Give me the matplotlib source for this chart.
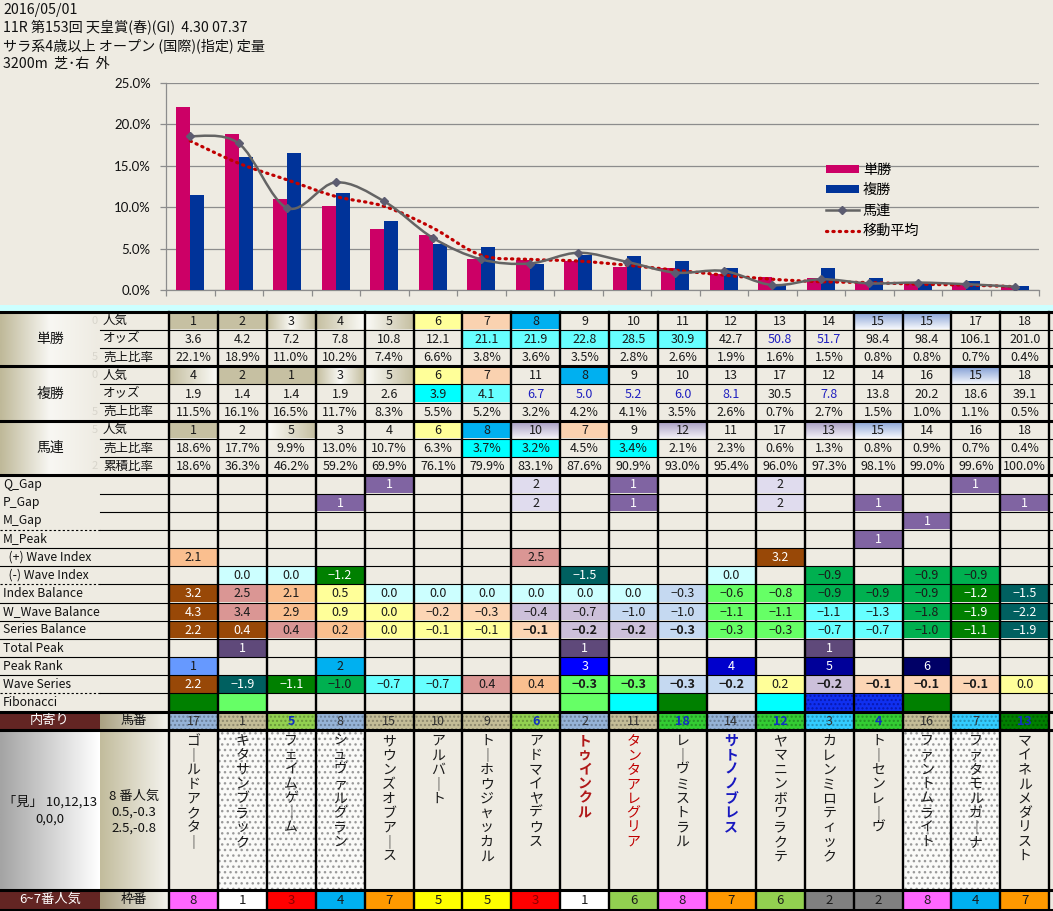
import numpy as np
import matplotlib
matplotlib.use('Agg')
import matplotlib.pyplot as plt
from matplotlib.patches import Rectangle, Patch, PathPatch
from matplotlib.lines import Line2D
from matplotlib.path import Path
import matplotlib.colors as mcolors

plt.rcParams['font.family'] = ['Noto Sans CJK JP', 'DejaVu Sans']

# ------------------------------------------------------------------ data
header_lines = ["2016/05/01",
                "11R 第153回 天皇賞(春)(GI)  4.30 07.37",
                "サラ系4歳以上 オープン (国際)(指定) 定量",
                "3200m  芝･右  外"]

tan_ninki = [1, 2, 3, 4, 5, 6, 7, 8, 9, 10, 11, 12, 13, 14, 15, 15, 17, 18]
tan_odds = [3.6, 4.2, 7.2, 7.8, 10.8, 12.1, 21.1, 21.9, 22.8, 28.5, 30.9, 42.7, 50.8, 51.7, 98.4, 98.4, 106.1, 201.0]
tan_ratio = [22.1, 18.9, 11.0, 10.2, 7.4, 6.6, 3.8, 3.6, 3.5, 2.8, 2.6, 1.9, 1.6, 1.5, 0.8, 0.8, 0.7, 0.4]

fuku_ninki = [4, 2, 1, 3, 5, 6, 7, 11, 8, 9, 10, 13, 17, 12, 14, 16, 15, 18]
fuku_odds = [1.9, 1.4, 1.4, 1.9, 2.6, 3.9, 4.1, 6.7, 5.0, 5.2, 6.0, 8.1, 30.5, 7.8, 13.8, 20.2, 18.6, 39.1]
fuku_ratio = [11.5, 16.1, 16.5, 11.7, 8.3, 5.5, 5.2, 3.2, 4.2, 4.1, 3.5, 2.6, 0.7, 2.7, 1.5, 1.0, 1.1, 0.5]

umaren_ninki = [1, 2, 5, 3, 4, 6, 8, 10, 7, 9, 12, 11, 17, 13, 15, 14, 16, 18]
umaren_ratio = [18.6, 17.7, 9.9, 13.0, 10.7, 6.3, 3.7, 3.2, 4.5, 3.4, 2.1, 2.3, 0.6, 1.3, 0.8, 0.9, 0.7, 0.4]
umaren_cum = [18.6, 36.3, 46.2, 59.2, 69.9, 76.1, 79.9, 83.1, 87.6, 90.9, 93.0, 95.4, 96.0, 97.3, 98.1, 99.0, 99.6, 100.0]

moving_avg = [18.0, 15.3, 13.3, 11.3, 10.1, 7.5, 4.2, 3.7, 3.5, 3.0, 2.4, 1.8, 1.3, 1.0, 0.9, 0.7, 0.6, 0.4]

N_ = None
q_gap = [N_, N_, N_, N_, 1, N_, N_, 2, N_, 1, N_, N_, 2, N_, N_, N_, 1, N_]
p_gap = [N_, N_, N_, 1, N_, N_, N_, 2, N_, 1, N_, N_, 2, N_, 1, N_, N_, 1]
m_gap = [N_] * 15 + [1, N_, N_]
m_peak = [N_] * 14 + [1, N_, N_, N_]
plus_wave = [2.1, N_, N_, N_, N_, N_, N_, 2.5, N_, N_, N_, N_, 3.2, N_, N_, N_, N_, N_]
minus_wave = [N_, 0.0, 0.0, -1.2, N_, N_, N_, N_, -1.5, N_, N_, 0.0, N_, -0.9, N_, -0.9, -0.9, N_]
index_balance = [3.2, 2.5, 2.1, 0.5, 0.0, 0.0, 0.0, 0.0, 0.0, 0.0, -0.3, -0.6, -0.8, -0.9, -0.9, -0.9, -1.2, -1.5]
w_wave_balance = [4.3, 3.4, 2.9, 0.9, 0.0, -0.2, -0.3, -0.4, -0.7, -1.0, -1.0, -1.1, -1.1, -1.1, -1.3, -1.8, -1.9, -2.2]
series_balance = [2.2, 0.4, 0.4, 0.2, 0.0, -0.1, -0.1, -0.1, -0.2, -0.2, -0.3, -0.3, -0.3, -0.7, -0.7, -1.0, -1.1, -1.9]
total_peak = [N_, 1, N_, N_, N_, N_, N_, N_, 1, N_, N_, N_, N_, 1, N_, N_, N_, N_]
peak_rank = [1, N_, N_, 2, N_, N_, N_, N_, 3, N_, N_, 4, N_, 5, N_, 6, N_, N_]
wave_series = [2.2, -1.9, -1.1, -1.0, -0.7, -0.7, 0.4, 0.4, -0.3, -0.3, -0.3, -0.2, 0.2, -0.2, -0.1, -0.1, -0.1, 0.0]

umaban = [17, 1, 5, 8, 15, 10, 9, 6, 2, 11, 18, 14, 12, 3, 4, 16, 7, 13]
horse_names = ["ゴールドアクター", "キタサンブラック", "フェイムゲーム", "シュヴァルグラン",
               "サウンズオブアース", "アルバート", "トーホウジャッカル", "アドマイヤデウス",
               "トゥインクル", "タンタアレグリア", "レーヴミストラル", "サトノノブレス",
               "ヤマニンボワラクテ", "カレンミロティック", "トーセンレーヴ", "ファントムライト",
               "ファタモルガーナ", "マイネルメダリスト"]
wakuban = [8, 1, 3, 4, 7, 5, 5, 3, 1, 6, 8, 7, 6, 2, 2, 8, 4, 7]

upper_labels = [("単勝", ["人気", "オッズ", "売上比率"], ["0", "", "5"]),
                ("複勝", ["人気", "オッズ", "売上比率"], ["0", "", "5"]),
                ("馬連", ["人気", "売上比率", "累積比率"], ["5", "", "2"])]
lower_labels = ["Q_Gap", "P_Gap", "M_Gap", "M_Peak", "  (+) Wave Index", "  (-) Wave Index",
                "Index Balance", "W_Wave Balance", "Series Balance", "Total Peak",
                "Peak Rank", "Wave Series", "Fibonacci"]
note_left = ["「見」 10,12,13", "0,0,0"]
note_mid = ["8 番人気", "0.5,-0.3", "2.5,-0.8"]

# ------------------------------------------------------------------ styles
BG = '#EEEBE2'
P = {'br': '#984807', 'pk': '#DA9694', 'pe': '#FABF8F', 'lp': '#FCD5B4', 'ye': '#FFFF99',
     'lc': '#CCFFFF', 'cy': '#66FFFF', 'cb': '#00FFFF', 'lb': '#C5D9F1', 'lv': '#CCC0DA',
     'lg': '#66FF66', 'gr': '#00B050', 'dg': '#008000', 'tl': '#006060', 'pu': '#8064A2',
     'll': '#E0DCEE', 'dp': '#5F497A', 'sk': '#00B0F0', 'cf': '#6699FF', 'bl': '#0000FF',
     'b2': '#0000CC', 'nv': '#000099', 'dn': '#000066', 'pa': '#FAD2B0'}
_ = None
st_tan_ninki = ['o', 'o', 'owo', 'ow', 'wo', 'ye', 'pa', 'sk', _, _, _, _, _, _, 'bw', 'bw', _, _]
st_fuku_ninki = ['ow', 'o', 'o', 'owo', 'wo', 'ye', 'pa', _, 'sk', _, _, _, _, _, _, _, 'bw', _]
st_uma_ninki = ['o', _, 'wo', _, _, 'ye', 'sk', 'lvg', 'pa', _, 'lvg', _, _, 'lvg', 'bw', _, _, _]
st_tan_odds = [_] * 6 + ['cy'] * 5 + [_] * 7
st_fuku_odds = [_] * 5 + ['cb', 'cy'] + [_] * 11
st_uma_ratio = [_] * 6 + ['cb', 'cb', _, 'cb'] + [_] * 8
blue_tan_odds = [12, 13]
blue_fuku_odds = [7, 8, 9, 10, 11, 13]

st_q = [_, _, _, _, 'pu', _, _, 'll', _, 'pu', _, _, 'll', _, _, _, 'pu', _]
st_p = [_, _, _, 'pu', _, _, _, 'll', _, 'pu', _, _, 'll', _, 'pu', _, _, 'pu']
st_mg = [_] * 15 + ['pu', _, _]
st_mp = [_] * 14 + ['pu', _, _, _]
st_plus = ['pe', _, _, _, _, _, _, 'pk', _, _, _, _, 'br', _, _, _, _, _]
st_minus = [_, 'lc', 'lc', 'dg', _, _, _, _, 'tl', _, _, 'lc', _, 'gr', _, 'gr', 'gr', _]
st_ib = ['br', 'pk', 'pe', 'ye', 'lc', 'lc', 'lc', 'lc', 'lc', 'lc', 'lb', 'lg', 'lg', 'gr', 'gr', 'gr', 'dg', 'tl']
st_ww = ['br', 'pk', 'pe', 'ye', 'ye', 'lp', 'lp', 'lv', 'lv', 'lb', 'lb', 'lg', 'lg', 'cy', 'cy', 'gr', 'dg', 'tl']
st_sb = ['br', 'br', 'pk', 'pe', 'ye', 'ye', 'ye', 'lp', 'lv', 'lv', 'lb', 'lg', 'lg', 'cy', 'cy', 'gr', 'dg', 'tl']
st_tp = [_, 'dp', _, _, _, _, _, _, 'dp', _, _, _, _, 'dp', _, _, _, _]
st_pr = ['cf', _, _, 'sk', _, _, _, _, 'bl', _, _, 'b2', _, 'nv', _, 'dn', _, _]
st_ws = ['br', 'tl', 'dg', 'gr', 'cy', 'cy', 'pk', 'pe', 'lg', 'lg', 'lb', 'lb', 'ye', 'lv', 'lp', 'lp', 'lp', 'ye']
st_fib = ['dg', 'lg', _, _, _, _, _, _, 'lg', 'cb', 'dg', _, 'cb', 'dot', 'dot', 'dg', _, _]
bold_sb = [7, 8, 9, 10]
bold_ws = [8, 9, 10, 11, 13, 14, 15, 16]

umaban_bg = ['#95B3D7', '#C4BD97', '#92D050', '#95B3D7', '#C4BD97', '#C4BD97', '#C4BD97', '#92D050',
             '#95B3D7', '#C4BD97', '#33CC33', '#95B3D7', '#33CC33', '#33CCFF', '#33CC33', '#C4BD97',
             '#33CCFF', '#008000']
umaban_blue = [2, 7, 10, 12, 14, 17]
name_dotted = [1, 2, 3, 15, 16]
name_color = {8: '#B01818', 9: '#C00000', 11: '#1818C0'}
name_bold = [8, 11]
waku_colors = {1: '#FFFFFF', 2: '#808080', 3: '#FF0000', 4: '#00B0F0', 5: '#FFFF00',
               6: '#92D050', 7: '#FF9900', 8: '#FF66FF'}

OL = '#C6C0A2'
WH = '#FAFAF6'

# ------------------------------------------------------------------ figure
W, H = 1053, 911
fig = plt.figure(figsize=(W / 100, H / 100), dpi=100, facecolor=BG)
axT = fig.add_axes([0, 0, 1, 1])
axT.set_axis_off()
axT.set_facecolor(BG)

XL = 169.0
CW = 48.9
xb = [XL + i * CW for i in range(19)]
cx = [XL + (i + 0.5) * CW for i in range(18)]
Y0 = 311.7
RH = 18.18


def ry(r):
    return Y0 + r * RH


def rect(x0, y0, x1, y1, color, z=1):
    axT.add_patch(Rectangle((x0, y0), x1 - x0, y1 - y0, facecolor=color, edgecolor='none', lw=0, zorder=z))


def grad(x0, y0, x1, y1, colors, vertical=False, n=64):
    cs = [np.array(mcolors.to_rgb(c)) for c in colors]
    t = np.linspace(0, 1, n)
    seg = np.linspace(0, 1, len(cs))
    arr = np.stack([np.interp(t, seg, [c[k] for c in cs]) for k in range(3)], axis=-1)
    img = arr[:, None, :] if vertical else arr[None, :, :]
    axT.imshow(img, extent=(x0, x1, y1, y0), aspect='auto', interpolation='bilinear',
               origin='upper', zorder=1)


def dotted(x0, y0, x1, y1, bg, dot, hatch='....'):
    rect(x0, y0, x1, y1, bg)
    axT.add_patch(Rectangle((x0, y0), x1 - x0, y1 - y0, fill=False, hatch=hatch,
                            edgecolor=dot, lw=0, zorder=1.5))


def style_cell(i, y0, y1, s):
    x0, x1 = xb[i] + 1, xb[i + 1] - 1
    if s is None:
        return
    if s == 'o':
        rect(x0, y0, x1, y1, OL)
    elif s == 'ow':
        grad(x0, y0, x1, y1, [OL, WH])
    elif s == 'wo':
        grad(x0, y0, x1, y1, [WH, OL])
    elif s == 'owo':
        grad(x0, y0, x1, y1, [OL, WH, OL])
    elif s == 'bw':
        grad(x0, y0, x1, y1, ['#7F9CD4', '#F6F8FC'], vertical=True)
    elif s == 'lvg':
        grad(x0, y0, x1, y1, ['#A095BF', '#F2F0F6'], vertical=True)
    elif s == 'dot':
        dotted(x0, y0, x1, y1, '#1030F0', '#0818B0')
    else:
        rect(x0, y0, x1, y1, P[s])


def txt_color(s):
    if s is None or s in ('o', 'ow', 'wo', 'owo', 'bw', 'lvg'):
        return '#1A1A1A'
    r, g, b = mcolors.to_rgb(P.get(s, BG))
    lum = 0.2126 * r + 0.7152 * g + 0.0722 * b
    return '#FFFFFF' if lum < 0.45 else '#1A1A1A'


FS = 9.0


def put(i, r, s, color='#1A1A1A', bold=False):
    yc = (ry(r) + ry(r + 1)) / 2
    axT.text(cx[i], yc + 0.5, s, ha='center', va='center', fontsize=FS, color=color,
             fontweight='bold' if bold else 'normal', zorder=5)


# header text
for k, line in enumerate(header_lines):
    axT.text(3, 10 + k * 18, line, ha='left', va='center', fontsize=10.2, color='#111111')

# cyan strip above table
rect(0, 305, W, 310.5, '#CCFFFF')

# ---------------- upper blocks
upper_rows = [
    (tan_ninki, st_tan_ninki, lambda v: f"{v}", []),
    (tan_odds, st_tan_odds, lambda v: f"{v:.1f}", blue_tan_odds),
    (tan_ratio, [_] * 18, lambda v: f"{v:.1f}%", []),
    (fuku_ninki, st_fuku_ninki, lambda v: f"{v}", []),
    (fuku_odds, st_fuku_odds, lambda v: f"{v:.1f}", blue_fuku_odds),
    (fuku_ratio, [_] * 18, lambda v: f"{v:.1f}%", []),
    (umaren_ninki, st_uma_ninki, lambda v: f"{v}", []),
    (umaren_ratio, st_uma_ratio, lambda v: f"{v:.1f}%", []),
    (umaren_cum, [_] * 18, lambda v: f"{v:.1f}%", []),
]
for r, (vals, sts, fmt, blues) in enumerate(upper_rows):
    for i in range(18):
        style_cell(i, ry(r) + 0.5, ry(r + 1) - 0.5, sts[i])
        col = '#2020C0' if i in blues else txt_color(sts[i])
        put(i, r, fmt(vals[i]), color=col)

for b, (lab, subs, faint) in enumerate(upper_labels):
    y0, y1 = ry(3 * b), ry(3 * b + 3)
    grad(0, y0, 100, y1, ['#BFB999', '#F8F7F3', BG])
    axT.text(50, (y0 + y1) / 2, lab, ha='center', va='center', fontsize=10, color='#111111', zorder=5)
    for k in range(3):
        yc = (ry(3 * b + k) + ry(3 * b + k + 1)) / 2
        axT.text(103, yc, subs[k], ha='left', va='center', fontsize=FS, color='#111111', zorder=5)
        if faint[k]:
            axT.text(95, yc, faint[k], ha='center', va='center', fontsize=8, color='#D8D5CC', zorder=5)

# ---------------- lower block
lower_rows = [
    (q_gap, st_q, lambda v: f"{v}", []),
    (p_gap, st_p, lambda v: f"{v}", []),
    (m_gap, st_mg, lambda v: f"{v}", []),
    (m_peak, st_mp, lambda v: f"{v}", []),
    (plus_wave, st_plus, lambda v: f"{v:.1f}", []),
    (minus_wave, st_minus, lambda v: f"{v:.1f}", []),
    (index_balance, st_ib, lambda v: f"{v:.1f}", []),
    (w_wave_balance, st_ww, lambda v: f"{v:.1f}", []),
    (series_balance, st_sb, lambda v: f"{v:.1f}", bold_sb),
    (total_peak, st_tp, lambda v: f"{v}", []),
    (peak_rank, st_pr, lambda v: f"{v}", []),
    (wave_series, st_ws, lambda v: f"{v:.1f}", bold_ws),
    ([N_] * 18, st_fib, lambda v: "", []),
]
for k, (vals, sts, fmt, bolds) in enumerate(lower_rows):
    r = 9 + k
    for i in range(18):
        style_cell(i, ry(r) + 0.5, ry(r + 1) - 0.5, sts[i])
        if vals[i] is not None:
            s = fmt(vals[i]).replace('-', '\u2212')
            put(i, r, s, color=txt_color(sts[i]), bold=(i in bolds))
    axT.text(3, (ry(r) + ry(r + 1)) / 2, lower_labels[k], ha='left', va='center',
             fontsize=8.8, color='#111111', zorder=5)

# ---------------- umaban row
yU0, yU1 = ry(22), 729.5
rect(0, yU0, 100, yU1, '#632523')
grad(100, yU0, 169, yU1, ['#A9A182', '#F4F3EE'])
axT.text(50, (yU0 + yU1) / 2, "内寄り", ha='center', va='center', fontsize=9.5, color='#FFFFFF', zorder=5)
axT.text(134, (yU0 + yU1) / 2, "馬番", ha='center', va='center', fontsize=9.5, color='#111111', zorder=5)
for i in range(18):
    bgc = np.array(mcolors.to_rgb(umaban_bg[i]))
    dotted(xb[i] + 1, yU0 + 1, xb[i + 1] - 1, yU1 - 1, umaban_bg[i], tuple(bgc * 0.72))
    blue = i in umaban_blue
    axT.text(cx[i], (yU0 + yU1) / 2 + 0.5, str(umaban[i]), ha='center', va='center', fontsize=FS,
             color='#1030C0' if blue else '#303030', fontweight='bold' if blue else 'normal', zorder=5)

# ---------------- names
yN0, yN1 = yU1, 889.5
grad(0, yN0, 100, yN1, ['#A4A4A4', '#FFFFFF'])
grad(100, yN0, 169, yN1, ['#C2BC9C', '#F5F4EF'])
for k, s in enumerate(note_left):
    axT.text(50, 802 + k * 17, s, ha='center', va='center', fontsize=9.5, color='#111111', zorder=5)
for k, s in enumerate(note_mid):
    axT.text(134, 796 + k * 16, s, ha='center', va='center', fontsize=9.5, color='#111111', zorder=5)
for i in range(18):
    if i in name_dotted:
        dotted(xb[i] + 1, yN0 + 1, xb[i + 1] - 1, yN1 - 1, '#FAFAF8', '#9A9A9A', hatch='...')
    col = name_color.get(i, '#1A1A1A')
    for j, ch in enumerate(horse_names[i]):
        c = '｜' if ch == 'ー' else ch
        axT.text(cx[i], 741 + j * 14.4, c, ha='center', va='center', fontsize=10, color=col,
                 fontweight='bold' if i in name_bold else 'normal', zorder=5)

# ---------------- wakuban row
yW0, yW1 = yN1, 910
rect(0, yW0, 100, yW1, '#632523')
grad(100, yW0, 169, yW1, ['#A9A182', '#F4F3EE'])
axT.text(50, (yW0 + yW1) / 2, "6~7番人気", ha='center', va='center', fontsize=9.5, color='#FFFFFF', zorder=5)
axT.text(134, (yW0 + yW1) / 2, "枠番", ha='center', va='center', fontsize=9.5, color='#111111', zorder=5)
for i in range(18):
    w = wakuban[i]
    rect(xb[i] + 1, yW0 + 1, xb[i + 1] - 1, yW1 - 1, waku_colors[w])
    tc = '#8B0000' if w == 3 else '#1A1A1A'
    axT.text(cx[i], (yW0 + yW1) / 2 + 0.5, str(w), ha='center', va='center', fontsize=FS + 0.5,
             color=tc, zorder=5)

# ---------------- grid lines
LK = '#000000'
for r in range(1, 22):
    y = ry(r)
    if r in (3, 6, 9):
        axT.plot([0, W], [y, y], color=LK, lw=2.2, zorder=4)
    elif r < 9 or r in (10, 11):
        axT.plot([100, W], [y, y], color=LK, lw=0.8, zorder=4)
    elif r in (12, 15, 21):
        axT.plot([0, 100], [y, y], color=LK, lw=0.8, ls=(0, (2, 2)), zorder=4)
        axT.plot([100, W], [y, y], color=LK, lw=0.8, zorder=4)
    else:
        axT.plot([0, W], [y, y], color=LK, lw=0.8, zorder=4)
for y in (Y0, yU0, yU1, yN1, yW1):
    axT.plot([0, W], [y, y], color=LK, lw=2.2, zorder=4)
for x in xb:
    axT.plot([x, x], [Y0, yW1], color=LK, lw=1.7, zorder=4)

axT.set_xlim(0, W)
axT.set_ylim(H, 0)

# ------------------------------------------------------------------ chart
axC = fig.add_axes([166 / W, 1 - 290 / H, (1039 - 166) / W, (290 - 83) / H])
axC.set_facecolor('none')
xs = np.arange(18) + 0.5
axC.bar(xs - 0.145, tan_ratio, 0.29, color='#CC0066', zorder=3)
axC.bar(xs + 0.145, fuku_ratio, 0.29, color='#003399', zorder=3)


def smooth_path(xv, yv):
    pts = np.column_stack([xv, yv])
    n = len(pts)
    verts = [pts[0]]
    codes = [Path.MOVETO]
    for k in range(n - 1):
        p0 = pts[k - 1] if k > 0 else pts[k]
        p1, p2 = pts[k], pts[k + 1]
        p3 = pts[k + 2] if k + 2 < n else pts[k + 1]
        c1 = p1 + (p2 - p0) / 6.0
        c2 = p2 - (p3 - p1) / 6.0
        verts += [c1, c2, p2]
        codes += [Path.CURVE4] * 3
    return Path(verts, codes)


axC.add_patch(PathPatch(smooth_path(xs, moving_avg), fill=False, edgecolor='#C00000', lw=2.3,
                        ls=(0, (0.4, 1.6)), capstyle='round', zorder=4))
axC.add_patch(PathPatch(smooth_path(xs, umaren_ratio), fill=False, edgecolor='#646464', lw=1.8, zorder=5))
axC.plot(xs, umaren_ratio, 'D', ms=4, color='#5C5C70', zorder=6)

axC.set_xlim(0, 18)
axC.set_ylim(0, 25)
axC.set_yticks(np.arange(0, 26, 5))
axC.set_yticklabels([f"{v:.1f}%" for v in np.arange(0, 26, 5)], fontsize=9.5,
                    family=['Lato', 'DejaVu Sans'], color='#111111')
axC.set_xticks(np.arange(0, 19))
axC.set_xticklabels([])
axC.yaxis.grid(True, color='#8C8C8C', lw=0.9, zorder=0)
axC.set_axisbelow(True)
for s in ('top', 'right'):
    axC.spines[s].set_visible(False)
for s in ('left', 'bottom'):
    axC.spines[s].set_color('#8C8C8C')
    axC.spines[s].set_linewidth(0.9)
axC.tick_params(axis='both', direction='out', length=4, width=0.9, color='#8C8C8C')
axC.tick_params(axis='y', pad=7)

handles = [Patch(facecolor='#CC0066', edgecolor='none'),
           Patch(facecolor='#003399', edgecolor='none'),
           Line2D([], [], color='#646464', lw=1.8, marker='D', ms=4, markerfacecolor='#5C5C70',
                  markeredgecolor='#5C5C70'),
           Line2D([], [], color='#C00000', lw=2.3, ls=(0, (0.4, 1.6)), dash_capstyle='round')]
axC.legend(handles, ["単勝", "複勝", "馬連", "移動平均"], loc='upper left',
           bbox_to_anchor=(826 / W, 1 - 163 / H), bbox_transform=fig.transFigure,
           frameon=False, fontsize=10.2, handlelength=2.3, handleheight=0.5,
           labelspacing=0.45, borderpad=0, borderaxespad=0, handletextpad=0.3)

fig.savefig('out.png', dpi=100, facecolor=BG)
